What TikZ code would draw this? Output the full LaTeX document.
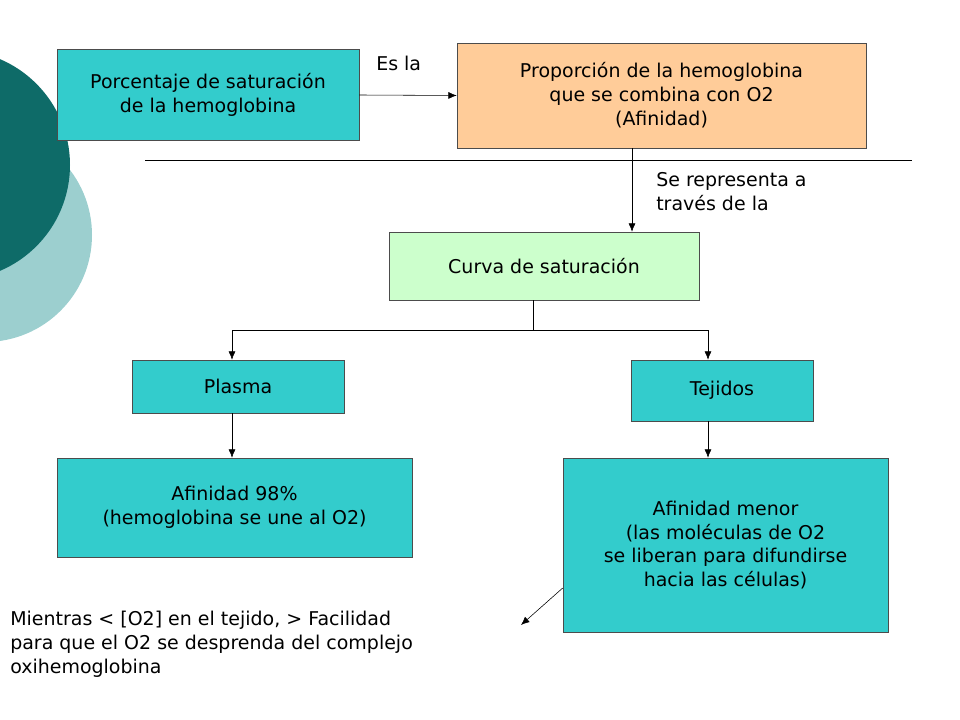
\documentclass[tikz,border=0pt]{standalone}
\usepackage{fontspec}
\setmainfont{DejaVu Sans}
\usetikzlibrary{arrows.meta}
\definecolor{cyanbox}{HTML}{33CCCC}
\definecolor{peachbox}{HTML}{FFCC99}
\definecolor{greenbox}{HTML}{CCFFCC}
\definecolor{darkteal}{HTML}{0E6B68}
\definecolor{lightteal}{HTML}{9CCFCF}
\tikzset{
  box/.style={draw=black!70, thin, align=center, font=\fontsize{13.5}{17}\selectfont, inner sep=0pt},
  arr/.style={-{Latex[length=6pt,width=5pt]}, thin},
  lbl/.style={font=\fontsize{13.5}{17}\selectfont, align=left, inner sep=0pt}
}
\begin{document}
\begin{tikzpicture}[x=0.025cm,y=-0.025cm]
  \useasboundingbox (0,0) rectangle (960,720);
  % background circles
  \fill [lightteal] (-15,235) circle (107);
  \fill [darkteal] (-45,165) circle (115);
  % boxes
  \node [box, fill=cyanbox, minimum width=302*0.025cm, minimum height=91*0.025cm] (porc) at (208,95) {Porcentaje de saturación\\de la hemoglobina};
  \node [box, fill=peachbox, minimum width=409*0.025cm, minimum height=105*0.025cm] (prop) at (661.5,95.5) {Proporción de la hemoglobina\\que se combina con O2\\(Afinidad)};
  \node [box, fill=greenbox, minimum width=310*0.025cm, minimum height=68*0.025cm] (curva) at (544,266) {Curva de saturación};
  \node [box, fill=cyanbox, minimum width=212*0.025cm, minimum height=53*0.025cm] (plasma) at (238,386.5) {Plasma};
  \node [box, fill=cyanbox, minimum width=182*0.025cm, minimum height=61*0.025cm] (tejidos) at (722,390.5) {Tejidos};
  \node [box, fill=cyanbox, minimum width=355*0.025cm, minimum height=99*0.025cm] (af98) at (234.5,507.5) {Afinidad 98\%\\(hemoglobina se une al O2)};
  \node [box, fill=cyanbox, minimum width=325*0.025cm, minimum height=174*0.025cm] (afmenor) at (725.5,545) {Afinidad menor\\(las moléculas de O2\\se liberan para difundirse\\hacia las células)};
  % labels
  \node [lbl, anchor=west] (esla) at (376,63) {Es la};
  \node [lbl, anchor=north west] (repr) at (656,172) {Se representa a\\través de la};
  \node [lbl, anchor=north west] (mientras) at (10,611) {Mientras < [O2] en el tejido, > Facilidad\\para que el O2 se desprenda del complejo\\oxihemoglobina};
  % connectors
  \draw [thin] (145,160) -- (912,160);
  \draw [arr] (porc.east) -- (prop.west);
  \draw [arr] (prop.south -| 632,0) -- (curva.north -| 632,0);
  \coordinate (split) at (533,330);
  \draw [thin] (curva.south -| split) -- (split);
  \draw [arr] (split) -| (plasma.north -| 232,0);
  \draw [arr] (split) -| (tejidos.north -| 708,0);
  \draw [arr] (plasma.south -| 232,0) -- (af98.north -| 232,0);
  \draw [arr] (tejidos.south -| 708,0) -- (afmenor.north -| 708,0);
  \coordinate (tip) at (521,625);
  \draw [arr] (afmenor.west |- 0,588) -- (tip);
\end{tikzpicture}
\end{document}
